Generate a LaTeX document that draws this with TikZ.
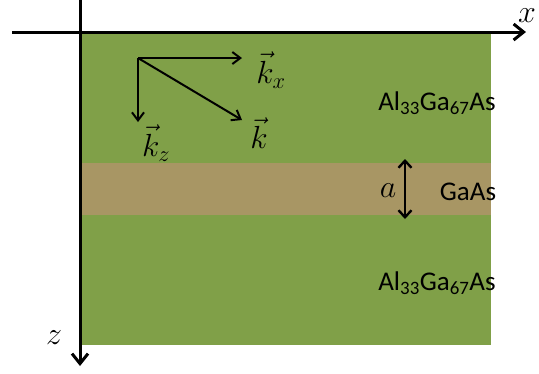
\RequirePackage{fix-cm}
\documentclass[tikz,border=0pt]{standalone}
\usepackage{fontspec}
\setsansfont{Carlito}
\usetikzlibrary{arrows.meta}
\definecolor{algreen}{RGB}{128,160,72}
\definecolor{gabrown}{RGB}{168,150,100}
\tikzset{
  axis/.style={line width=3pt,-{Straight Barb[length=10pt,width=16pt,line width=3pt]}},
  kvec/.style={line width=2pt,-{Straight Barb[length=8pt,width=12pt,line width=2pt]}},
  mlabel/.style={inner sep=0pt,font=\fontsize{32}{38}\selectfont},
  slabel/.style={inner sep=0pt,font=\sffamily\fontsize{27}{32}\selectfont},
}
\begin{document}
\begin{tikzpicture}[x=1pt,y=-1pt]
\useasboundingbox (0,0) rectangle (539,373);
\fill[algreen] (80,32) rectangle (491,345);
\fill[gabrown] (80,163) rectangle (491,215);
% axes
\coordinate (xs) at (12,32);
\coordinate (xe) at (526,32);
\coordinate (zs) at (80,0);
\coordinate (ze) at (80,366);
\draw[axis] (xs) -- (xe);
\draw[axis] (zs) -- (ze);
\node[mlabel] (xl) at (527,16) {$x$};
\node[mlabel] (zl) at (54,338) {$z$};
% k vectors
\coordinate (o) at (138,58);
\coordinate (kxe) at (242,58);
\coordinate (kze) at (138,122);
\coordinate (ke) at (242,120);
\draw[kvec] (o) -- (kxe);
\draw[kvec] (o) -- (kze);
\draw[kvec] (o) -- (ke);
\node[mlabel] (kxl) at (271,70) {$\vec{k}_x$};
\node[mlabel] (kzl) at (156,143) {$\vec{k}_z$};
\node[mlabel] (kl) at (259,133) {$\vec{k}$};
% layers
\node[slabel] (top) at (437,103) {Al\textsubscript{33}Ga\textsubscript{67}As};
\node[slabel] (mid) at (468,192) {GaAs};
\node[slabel] (bot) at (437,283) {Al\textsubscript{33}Ga\textsubscript{67}As};
% thickness
\coordinate (as) at (405,159);
\coordinate (ae) at (405,219);
\draw[line width=2.4pt,{Straight Barb[length=7pt,width=13pt,line width=2.4pt]}-{Straight Barb[length=7pt,width=13pt,line width=2.4pt]}] (as) -- (ae);
\node[mlabel] (al) at (388,191) {$a$};
\end{tikzpicture}
\end{document}
